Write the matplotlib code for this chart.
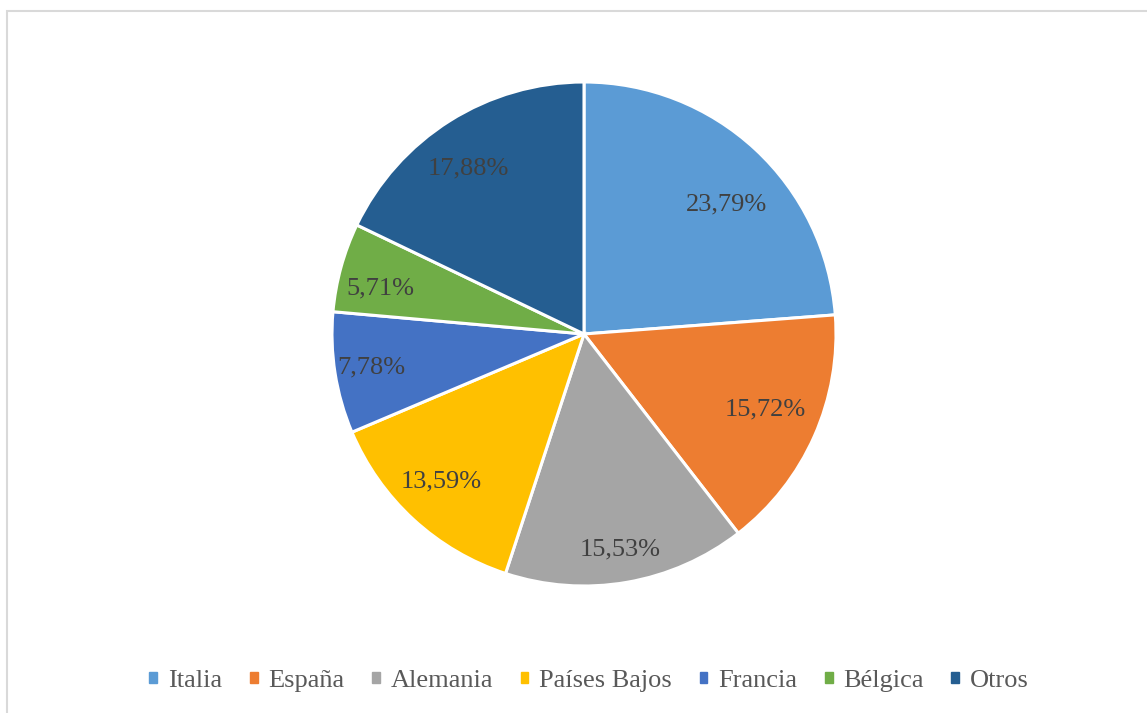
import matplotlib.pyplot as plt
from matplotlib.patches import Rectangle

paises = ["Italia", "España", "Alemania", "Países Bajos", "Francia", "Bélgica", "Otros"]
porcentajes = [23.79, 15.72, 15.53, 13.59, 7.78, 5.71, 17.88]
colores = ["#5B9BD5", "#ED7D31", "#A5A5A5", "#FFC000", "#4472C4", "#70AD47", "#255E91"]
# posicion de cada etiqueta (en radios), como la coloca Excel
pos_etiquetas = [(0.567, 0.515), (0.718, -0.300), (0.143, -0.855), (-0.567, -0.585),
                 (-0.845, -0.133), (-0.810, 0.180), (-0.458, 0.656)]

plt.rcParams['font.family'] = ['Liberation Serif', 'DejaVu Serif']

fig = plt.figure(figsize=(11.47, 7.13), dpi=100)
fig.patches.append(Rectangle((7.5 / 1147, -0.01), 1.02, 1 - 10.5 / 713 + 0.01,
                             transform=fig.transFigure, fill=False,
                             edgecolor="#d9d9d9", linewidth=1.5))

# centro (584, 334), radio ~252 px
r = 252
ax = fig.add_axes([(584 - r) / 1147, 1 - (334 + r) / 713, 2 * r / 1147, 2 * r / 713])

def fmt(p):
    return f"{p:.2f}%".replace(".", ",")

wedges, textos, pcts = ax.pie(porcentajes, colors=colores, startangle=90, counterclock=False,
                              autopct=fmt, pctdistance=0.79,
                              wedgeprops=dict(edgecolor="white", linewidth=2.2),
                              textprops=dict(fontsize=19, color="#404040"))
for t, p in zip(pcts, pos_etiquetas):
    t.set_position(p)

ax.set_xlim(-1, 1)
ax.set_ylim(-1, 1)
ax.set_aspect("equal")

handles = [Rectangle((0, 0), 1, 1, color=c) for c in colores]
fig.legend(handles, paises, loc="center", bbox_to_anchor=(589 / 1147, 1 - 681 / 713),
           ncol=7, frameon=False, fontsize=19, handlelength=0.3, handleheight=0.3,
           handletextpad=0.4, columnspacing=1.05, labelcolor="#595959")

plt.savefig("out.png", dpi=100)
